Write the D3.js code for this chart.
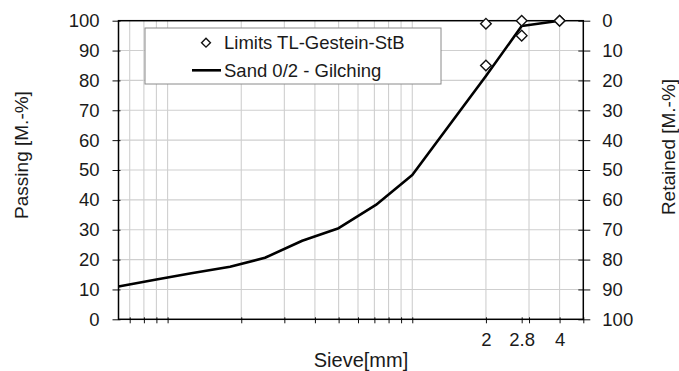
<!DOCTYPE html>
<html>
<head>
<meta charset="utf-8">
<script src="https://cdn.jsdelivr.net/npm/d3@7"></script>
<style>
  html, body { margin: 0; padding: 0; background: #fff; }
  svg { display: block; font-family: "Liberation Sans", Arial, sans-serif; }
</style>
</head>
<body>
<svg id="chart" width="679" height="371"></svg>
<script>
// Sieve sizes [mm] and passing percentages of the sand sample
const sieveSizes = [0.063, 0.09, 0.125, 0.18, 0.25, 0.355, 0.5, 0.71, 1, 2, 2.8, 4];
const passingSand = [11, 13.3, 15.4, 17.6, 20.6, 26.3, 30.5, 38.3, 48.3, 81.5, 98.2, 100];

// Grading limits (lower / upper) at the control sieves
const limitSieves = [2, 2, 2.8, 2.8, 4, 4];
const limitValues = [85, 99, 95, 100, 100, 100];

// Axis ticks
const passingTicks = [0, 10, 20, 30, 40, 50, 60, 70, 80, 90, 100];
const retainedTicks = [0, 10, 20, 30, 40, 50, 60, 70, 80, 90, 100];
const sieveGrid = [0.07, 0.08, 0.09, 0.1, 0.2, 0.3, 0.4, 0.5, 0.6, 0.7, 0.8, 0.9, 1, 2, 3, 4];
const sieveTicks = [0.07, 0.08, 0.09, 0.1, 0.2, 0.3, 0.4, 0.5, 0.6, 0.7, 0.8, 0.9, 1, 2, 2.8, 3, 4, 5];
const sieveLabels = [2, 2.8, 4];

const seriesNames = ["Limits TL-Gestein-StB", "Sand 0/2 - Gilching"];

const W = 679, H = 371;
const m = { left: 118.5, right: 95.7, top: 20.7, bottom: 51.7 };
const x0 = m.left, x1 = W - m.right, y0 = H - m.bottom, y1 = m.top;

const svg = d3.select("#chart");
const FS = 18.5;
const textColor = "#1a1a1a";

const x = d3.scaleLog().domain([0.063, 5]).range([x0, x1]);
const y = d3.scaleLinear().domain([0, 100]).range([y0, y1]);
const yR = d3.scaleLinear().domain([0, 100]).range([y1, y0]);

// Grid
const grid = svg.append("g").attr("stroke", "#cfcfcf").attr("stroke-width", 1.1);
grid.selectAll("line.h").data(passingTicks.filter(v => v > 0 && v < 100)).join("line")
  .attr("x1", x0).attr("x2", x1).attr("y1", d => y(d)).attr("y2", d => y(d));
grid.selectAll("line.v").data(sieveGrid).join("line")
  .attr("y1", y0).attr("y2", y1).attr("x1", d => x(d)).attr("x2", d => x(d));

// Axes
function styleAxis(g) {
  g.select(".domain").remove();
  g.selectAll(".tick line").attr("stroke", "#111").attr("stroke-width", 1);
  g.selectAll(".tick text").attr("fill", textColor).style("font-size", FS + "px")
    .style("font-family", '"Liberation Sans", Arial, sans-serif');
}

const xAxis = svg.append("g").attr("transform", `translate(0,${y0})`)
  .call(d3.axisBottom(x).tickValues(sieveTicks).tickSize(4).tickPadding(10)
    .tickFormat(d => sieveLabels.includes(d) ? String(d) : ""));
styleAxis(xAxis);
xAxis.selectAll(".tick line").attr("y1", -2);

const yAxis = svg.append("g").attr("transform", `translate(${x0},0)`)
  .call(d3.axisLeft(y).tickValues(passingTicks).tickSize(6).tickPadding(13));
styleAxis(yAxis);
yAxis.selectAll(".tick line").attr("x1", 2);

const yAxisR = svg.append("g").attr("transform", `translate(${x1},0)`)
  .call(d3.axisRight(yR).tickValues(retainedTicks).tickSize(7).tickPadding(12));
styleAxis(yAxisR);
yAxisR.selectAll(".tick line").attr("x1", -5);

// Frame
svg.append("rect").attr("x", x0).attr("y", y1).attr("width", x1 - x0).attr("height", y0 - y1)
  .attr("fill", "none").attr("stroke", "#000").attr("stroke-width", 1.5);

// Sand grading curve
const line = d3.line().x(d => x(d[0])).y(d => y(d[1]));
svg.append("path").datum(d3.zip(sieveSizes, passingSand))
  .attr("d", line).attr("fill", "none").attr("stroke", "#000")
  .attr("stroke-width", 2.6).attr("stroke-linejoin", "round");

// Limit markers
const diamond = d3.symbol().type(d3.symbolDiamond2).size(72);
svg.append("g").selectAll("path").data(d3.zip(limitSieves, limitValues)).join("path")
  .attr("d", diamond)
  .attr("transform", d => `translate(${x(d[0])},${y(d[1])})`)
  .attr("fill", "#fff").attr("stroke", "#111").attr("stroke-width", 1.4);

// Legend
const lg = svg.append("g");
lg.append("rect").attr("x", 145).attr("y", 28).attr("width", 296).attr("height", 56)
  .attr("fill", "#fff").attr("stroke", "#8a8a8a").attr("stroke-width", 1);
lg.append("path").attr("d", d3.symbol().type(d3.symbolDiamond2).size(50))
  .attr("transform", "translate(206,42.7)")
  .attr("fill", "#fff").attr("stroke", "#111").attr("stroke-width", 1.4);
lg.append("text").attr("x", 224).attr("y", 48.5).text(seriesNames[0])
  .attr("fill", textColor).style("font-size", FS + "px");
lg.append("line").attr("x1", 192).attr("x2", 221).attr("y1", 70.3).attr("y2", 70.3)
  .attr("stroke", "#000").attr("stroke-width", 2.6);
lg.append("text").attr("x", 224).attr("y", 76.5).text(seriesNames[1])
  .attr("fill", textColor).style("font-size", FS + "px");

// Axis titles
svg.append("text").attr("x", 361).attr("y", 367).attr("text-anchor", "middle")
  .attr("fill", textColor).style("font-size", "20px").text("Sieve[mm]");
svg.append("text").attr("transform", "translate(28,155) rotate(-90)")
  .attr("text-anchor", "middle").attr("fill", textColor).style("font-size", "19px")
  .text("Passing [M.-%]");
svg.append("text").attr("transform", "translate(675,147) rotate(-90)")
  .attr("text-anchor", "middle").attr("fill", textColor).style("font-size", "19px")
  .text("Retained [M.-%]");
</script>
</body>
</html>
